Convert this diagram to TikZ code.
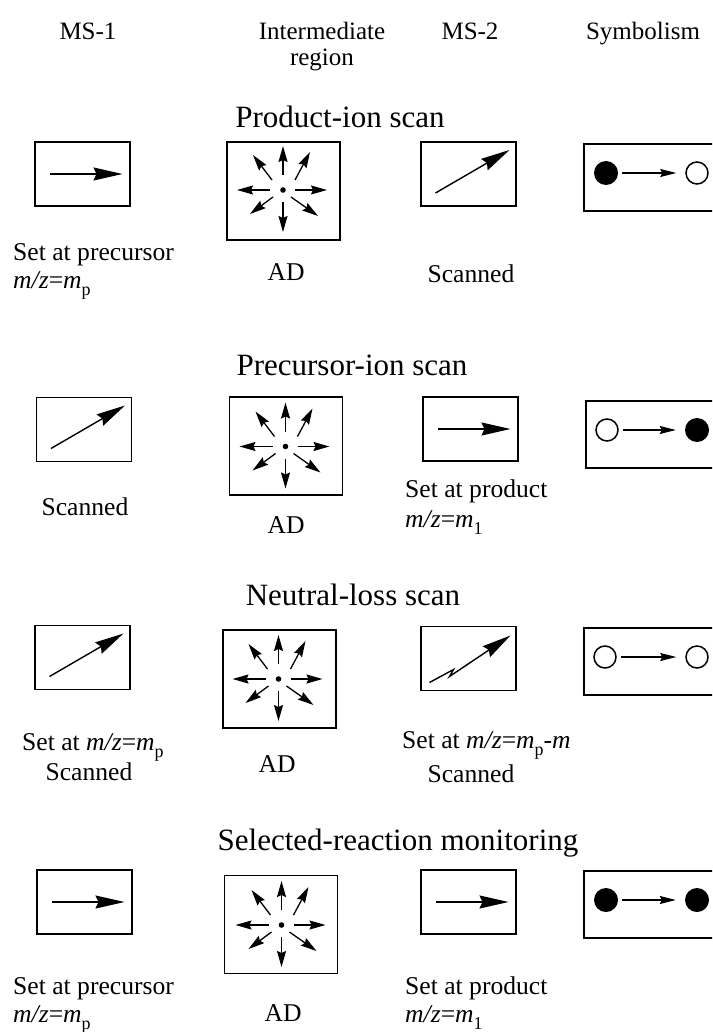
\documentclass[tikz,border=0pt]{standalone}
\usepackage{fontspec}
\setmainfont{Liberation Serif}
\usetikzlibrary{arrows.meta,calc}
\newcommand{\mzsub}[1]{\textit{m/z}=\textit{m}\raisebox{-0.28em}{\fontsize{18}{18}\selectfont #1}}
\tikzset{
  lbl/.style={font=\fontsize{25.6}{30}\selectfont, inner sep=0pt},
  ttl/.style={font=\fontsize{31}{36}\selectfont, inner sep=0pt, anchor=base},
  hdr/.style={font=\fontsize{25}{30}\selectfont, inner sep=0pt, anchor=base},
  msbox/.style={draw, line width=1.6pt, minimum width=95pt, minimum height=64pt, inner sep=0pt},
  adbox/.style={draw, line width=1.6pt, minimum width=113pt, minimum height=98pt, inner sep=0pt},
  symbox/.style={draw, line width=1.6pt, minimum width=200pt, minimum height=67pt, inner sep=0pt, anchor=north west},
  fillc/.style={circle, fill=black, minimum size=24pt, inner sep=0pt},
  openc/.style={circle, draw, line width=1.5pt, minimum size=22pt, inner sep=0pt},
  bigarr/.style={line width=1.4pt, -{Stealth[length=29pt,width=13pt,inset=3pt]}},
  smallarr/.style={line width=1.3pt, -{Stealth[length=16pt,width=9pt,inset=2pt]}},
  symarr/.style={line width=1.3pt, -{Stealth[length=16pt,width=8pt,inset=2pt]}, shorten <=4pt, shorten >=9pt},
  adstar/.pic={
    \fill (0,0) circle (2.8);
    \draw[smallarr] (-13,0) -- (-46,0);
    \draw[smallarr] (12,0) -- (44,0);
    \draw[smallarr] (0,-15) -- (0,-44);
    \draw[smallarr] (0,12) -- (0,42);
    \draw[smallarr] (-11,-10) -- (-30,-35);
    \draw[smallarr] (12,-10) -- (27,-38);
    \draw[smallarr] (-10,7) -- (-33,24);
    \draw[smallarr] (8,7) -- (35,26);
  },
  harr/.pic={\draw[bigarr] (-33,0) -- (40,0);},
  darr/.pic={\draw[bigarr] (-33,19) -- (41,-24);},
  zarr/.pic={\draw[bigarr] (-39,24) -- (-15,11) -- (-19,18) -- (42,-23);},
}
\begin{document}
\begin{tikzpicture}[x=1pt,y=-1pt]
\useasboundingbox (0,0) rectangle (712,1032);
\clip (0,0) rectangle (712,1032);

% headers
\node[hdr] (h1) at (88,40) {MS-1};
\node[hdr] (h2) at (322,40) {Intermediate};
\node[hdr] (h2b) at (322,66) {region};
\node[hdr] (h3) at (470,40) {MS-2};
\node[hdr] (h4) at (643,40) {Symbolism};

% Row 1: product-ion scan
\node[ttl] (t1) at (340,128) {Product-ion scan};
\node[msbox] (a1) at (82.5,174) {};
\pic at (a1.center) {harr};
\node[adbox] (b1) at (283.5,191) {};
\pic at (283,190) {adstar};
\node[msbox] (c1) at (468.5,174) {};
\pic at (c1.center) {darr};
\node[symbox] (d1) at (583,143) {};
\node[fillc] (d1l) at (606,173) {};
\node[openc] (d1r) at (697,173) {};
\draw[symarr] (d1l) -- (d1r);
\node[lbl, anchor=base west] (l1a) at (13,260) {Set at precursor};
\node[lbl, anchor=base west] (l1b) at (13,288) {\mzsub{p}};
\node[lbl, anchor=base] (l1c) at (286,280) {AD};
\node[lbl, anchor=base] (l1d) at (471,282) {Scanned};

% Row 2: precursor-ion scan
\node[ttl] (t2) at (352,375) {Precursor-ion scan};
\node[msbox] (a2) at (84,429.5) {};
\pic at (a2.center) {darr};
\node[adbox] (b2) at (286,446) {};
\pic at (285.5,446.5) {adstar};
\node[msbox] (c2) at (470.5,429) {};
\pic at (c2.center) {harr};
\node[symbox] (d2) at (585,400) {};
\node[openc] (d2l) at (607,430) {};
\node[fillc] (d2r) at (697,430) {};
\draw[symarr] (d2l) -- (d2r);
\node[lbl, anchor=base] (l2a) at (85,515) {Scanned};
\node[lbl, anchor=base] (l2b) at (286,533) {AD};
\node[lbl, anchor=base west] (l2c) at (405,497) {Set at product};
\node[lbl, anchor=base west] (l2d) at (405,527) {\mzsub{1}};

% Row 3: neutral-loss scan
\node[ttl] (t3) at (353,605) {Neutral-loss scan};
\node[msbox] (a3) at (82.5,657.5) {};
\pic at (a3.center) {darr};
\node[adbox] (b3) at (279.5,679) {};
\pic at (278.5,679) {adstar};
\node[msbox] (c3) at (468.5,658.5) {};
\pic at (c3.center) {zarr};
\node[symbox] (d3) at (583,627) {};
\node[openc] (d3l) at (605,657) {};
\node[openc] (d3r) at (697,657) {};
\draw[symarr] (d3l) -- (d3r);
\node[lbl, anchor=base west] (l3a) at (22,750) {Set at \mzsub{p}};
\node[lbl, anchor=base] (l3b) at (89,780) {Scanned};
\node[lbl, anchor=base] (l3c) at (277,772) {AD};
\node[lbl, anchor=base west] (l3d) at (402,748) {Set at \mzsub{p}-\textit{m}};
\node[lbl, anchor=base] (l3e) at (471,782) {Scanned};

% Row 4: selected-reaction monitoring
\node[ttl] (t4) at (398,850) {Selected-reaction monitoring};
\node[msbox] (a4) at (84.5,902) {};
\pic at (a4.center) {harr};
\node[adbox] (b4) at (281,924.5) {};
\pic at (281.5,925) {adstar};
\node[msbox] (c4) at (468.5,902) {};
\pic at (c4.center) {harr};
\node[symbox] (d4) at (583,870) {};
\node[fillc] (d4l) at (606,900) {};
\node[fillc] (d4r) at (697,900) {};
\draw[symarr] (d4l) -- (d4r);
\node[lbl, anchor=base west] (l4a) at (13,994) {Set at precursor};
\node[lbl, anchor=base west] (l4b) at (13,1022) {\mzsub{p}};
\node[lbl, anchor=base] (l4c) at (283,1021) {AD};
\node[lbl, anchor=base west] (l4d) at (405,994) {Set at product};
\node[lbl, anchor=base west] (l4e) at (405,1022) {\mzsub{1}};
\end{tikzpicture}
\end{document}
